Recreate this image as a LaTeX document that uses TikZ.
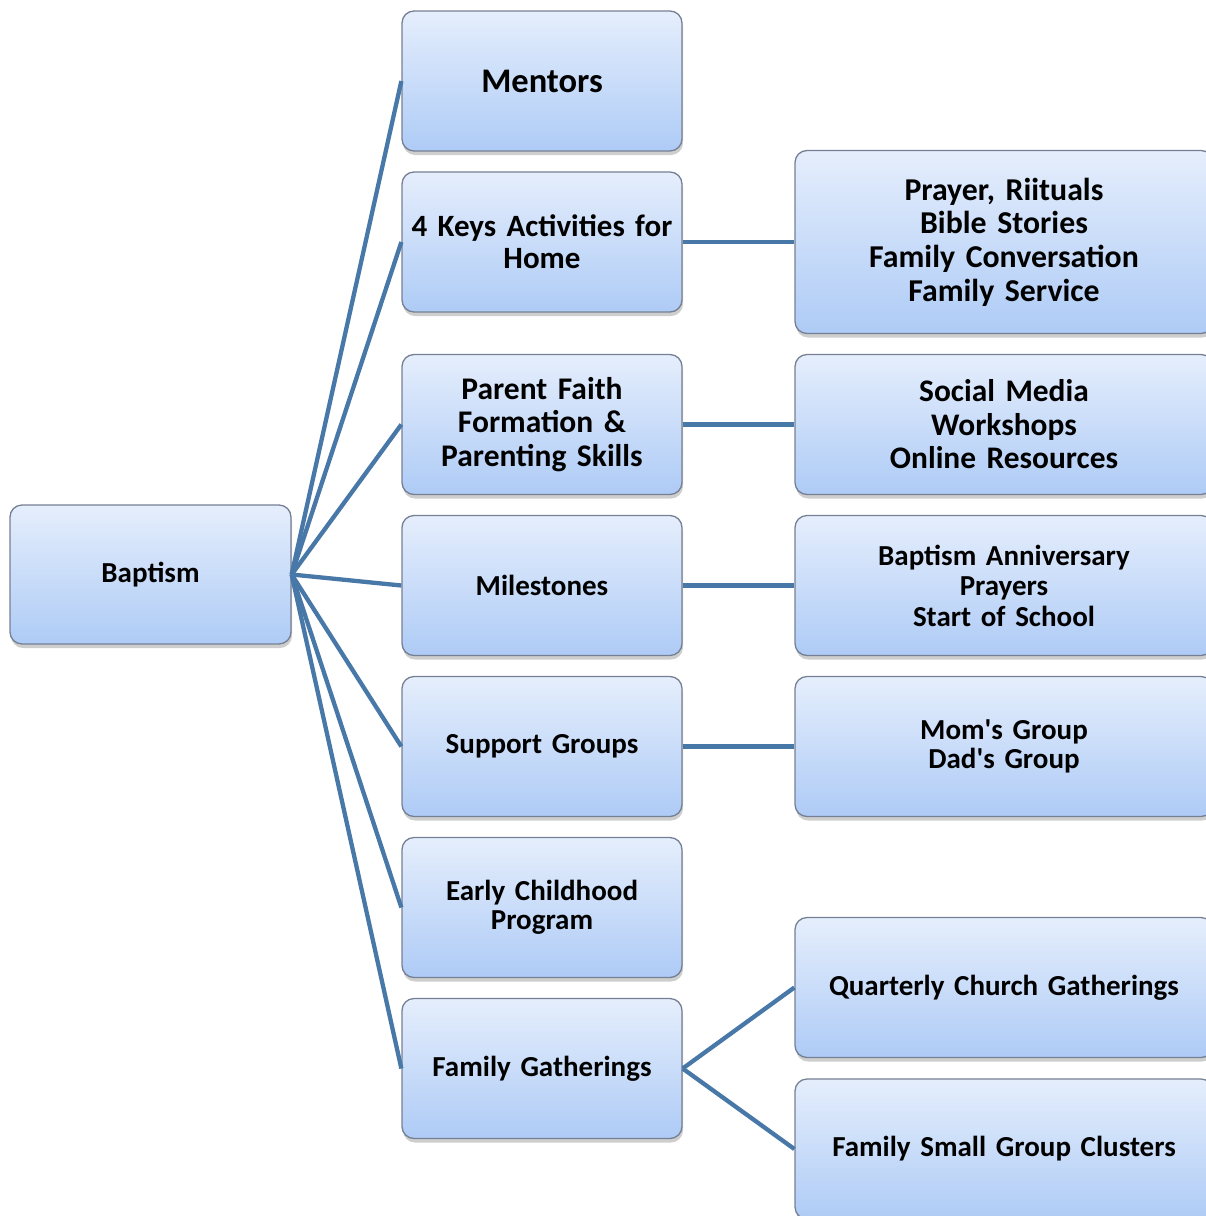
\documentclass[tikz,border=0pt]{standalone}
\usepackage{fontspec}
\setmainfont{Carlito}
\usetikzlibrary{shadows}
\definecolor{boxtop}{RGB}{229,238,252}
\definecolor{boxbot}{RGB}{174,203,246}
\definecolor{boxline}{RGB}{118,128,148}
\definecolor{conn}{RGB}{72,120,168}
\newcommand{\fs}[2]{\bfseries\fontsize{#1}{#2}\selectfont}
\tikzset{
  box/.style={rectangle, rounded corners=12pt, draw=boxline, line width=1.3pt,
    top color=boxtop, bottom color=boxbot, align=center,
    font=\fs{29}{29},
    minimum height=140pt, inner sep=0pt,
    drop shadow={shadow xshift=1pt, shadow yshift=-4pt, opacity=0.35, fill=black!55}},
  midbox/.style={box, minimum width=280pt, text width=276pt},
  rbox/.style={box, minimum width=418pt, text width=410pt},
  conline/.style={draw=conn, line width=4.3pt}
}
\begin{document}
\begin{tikzpicture}[x=1pt,y=-1pt]
\useasboundingbox (0,0) rectangle (1206,1216);
% root
\node[box, minimum width=281pt, minimum height=139pt] (bap) at (150.5,574.5) {Baptism};
% middle column
\node[midbox, font=\fs{34.5}{36}] (men) at (542,81) {Mentors};
\node[midbox, font=\fs{31}{32}] (keys) at (542,242) {4 Keys Activities for\\Home};
\node[midbox, font=\fs{31.5}{33.5}] (par) at (542,424.5) {Parent Faith\\Formation \&\\Parenting Skills};
\node[midbox] (mil) at (542,585.5) {Milestones};
\node[midbox] (sup) at (542,746.5) {Support Groups};
\node[midbox] (ear) at (542,907.5) {Early Childhood\\Program};
\node[midbox] (fam) at (542,1068.5) {Family Gatherings};
% right column
\node[rbox, minimum height=183pt, font=\fs{31.8}{33.7}] (pra) at (1004,242) {Prayer, Riituals\\Bible Stories\\Family Conversation\\Family Service};
\node[rbox, font=\fs{31.4}{33.5}] (soc) at (1004,424.5) {Social Media\\Workshops\\Online Resources};
\node[rbox, font=\fs{29}{30.5}] (ann) at (1004,585.5) {Baptism Anniversary\\Prayers\\Start of School};
\node[rbox, font=\fs{29}{29}] (mom) at (1004,746.5) {Mom\textquotesingle s Group\\Dad\textquotesingle s Group};
\node[rbox] (qua) at (1004,987.5) {Quarterly Church Gatherings};
\node[rbox] (fsg) at (1004,1149) {Family Small Group Clusters};
% connectors
\foreach \n in {men,keys,par,mil,sup,ear,fam}
  \draw[conline] (bap.east) -- (\n.west);
\draw[conline] (keys.east) -- (pra.west);
\draw[conline] (par.east) -- (soc.west);
\draw[conline] (mil.east) -- (ann.west);
\draw[conline] (sup.east) -- (mom.west);
\draw[conline] (fam.east) -- (qua.west);
\draw[conline] (fam.east) -- (fsg.west);
\end{tikzpicture}
\end{document}
